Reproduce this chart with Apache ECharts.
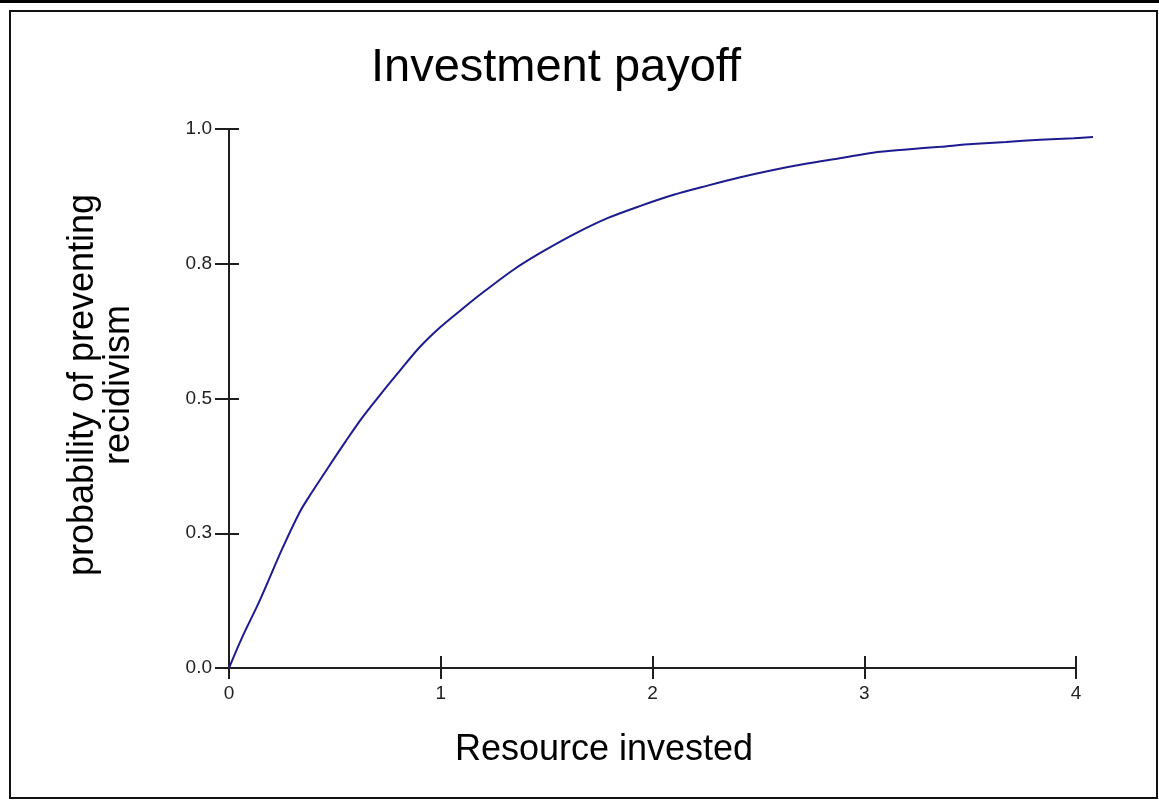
<!DOCTYPE html>
<html>
<head>
<meta charset="utf-8">
<script src="https://cdn.jsdelivr.net/npm/echarts@6/dist/echarts.min.js"></script>
<style>
  html, body { margin: 0; padding: 0; background: #fff; }
  #chartLine { width: 1159px; height: 809px; }
</style>
</head>
<body>
<div id="chartLine"></div>
<script>
// values
const resource = [0, 0.06, 0.146, 0.25, 0.335, 0.39, 0.47, 0.55, 0.63, 0.71, 0.81, 0.90, 1.0, 1.12, 1.2, 1.34, 1.47, 1.63, 1.79, 1.94, 2.1, 2.26, 2.41, 2.57, 2.73, 2.89, 3.04, 3.2, 3.36, 3.51, 3.67, 3.83, 3.99, 4.08]
const probability = [0, 0.055, 0.126, 0.22, 0.29, 0.325, 0.373, 0.42, 0.465, 0.505, 0.553, 0.595, 0.633, 0.672, 0.697, 0.738, 0.77, 0.805, 0.835, 0.857, 0.878, 0.895, 0.91, 0.924, 0.936, 0.946, 0.956, 0.962, 0.967, 0.972, 0.976, 0.98, 0.983, 0.985]
const yTicks = [0, 0.25, 0.5, 0.75, 1.0]
const yTickLabels = ['0.0', '0.3', '0.5', '0.8', '1.0']
const xTickLabels = ['0', '1', '2', '3', '4']

const chartDom = document.getElementById('chartLine')
const myChart = echarts.init(chartDom)

const font = '"Liberation Sans", Arial, sans-serif'
const axisColor = '#1e1e1e'

const yLabel = (v) => {
  const i = yTicks.findIndex(t => Math.abs(t - v) < 1e-9)
  return i >= 0 ? yTickLabels[i] : ''
}

const xAxisBase = {
  type: 'value',
  gridIndex: 0,
  position: 'bottom',
  min: 0,
  max: 4,
  interval: 1,
  splitLine: { show: false },
  axisLine: { lineStyle: { color: axisColor, width: 2 } }
}
const yAxisBase = {
  type: 'value',
  gridIndex: 0,
  position: 'left',
  min: 0,
  max: 1,
  interval: 0.25,
  splitLine: { show: false },
  axisLine: { lineStyle: { color: axisColor, width: 2 } }
}
const hiddenAxis = {
  type: 'value',
  gridIndex: 1,
  axisLine: { show: false },
  axisTick: { show: false },
  axisLabel: { show: false },
  splitLine: { show: false }
}

let option = {
  animation: false,
  backgroundColor: '#fff',
  grid: [
    // axes grid, x runs to 4
    { left: 229, right: 83, top: 129, bottom: 141 },
    // curve grid, same scale but runs on to the last point
    { left: 229, right: 66, top: 129, bottom: 141 }
  ],
  xAxis: [
    {
      ...xAxisBase,
      axisTick: { show: true, length: 11, lineStyle: { color: axisColor, width: 2 } },
      axisLabel: {
        margin: 16,
        color: '#222',
        fontFamily: font,
        fontSize: 19,
        formatter: (v) => xTickLabels[Math.round(v)] ?? ''
      }
    },
    {
      ...xAxisBase,
      axisTick: { show: true, inside: true, length: 12, lineStyle: { color: axisColor, width: 2 } },
      axisLabel: { show: false }
    },
    { ...hiddenAxis, min: 0, max: 4.08 }
  ],
  yAxis: [
    {
      ...yAxisBase,
      axisTick: { show: true, length: 14, lineStyle: { color: axisColor, width: 2 } },
      axisLabel: {
        margin: 17,
        color: '#222',
        fontFamily: font,
        fontSize: 19,
        formatter: yLabel
      }
    },
    {
      ...yAxisBase,
      axisTick: { show: true, inside: true, length: 10, lineStyle: { color: axisColor, width: 2 } },
      axisLabel: { show: false }
    },
    { ...hiddenAxis, min: 0, max: 1 }
  ],
  graphic: [
    // top rule and outer frame
    { type: 'rect', shape: { x: 0, y: 0, width: 1159, height: 3 }, style: { fill: '#000' } },
    { type: 'rect', shape: { x: 10, y: 11, width: 1147, height: 787 }, style: { fill: 'none', stroke: '#111', lineWidth: 2 } },
    {
      type: 'text', x: 556, y: 68,
      style: { text: 'Investment payoff', font: '47px ' + font, fill: '#000', align: 'center', verticalAlign: 'middle' }
    },
    {
      type: 'text', x: 604, y: 750,
      style: { text: 'Resource invested', font: '36px ' + font, fill: '#000', align: 'center', verticalAlign: 'middle' }
    },
    {
      type: 'text', x: 101, y: 385, rotation: Math.PI / 2,
      style: { text: 'probability of preventing\nrecidivism', font: '36px ' + font, lineHeight: 36, fill: '#000', align: 'center', verticalAlign: 'middle' }
    }
  ],
  series: [
    {
      type: 'line',
      xAxisIndex: 2,
      yAxisIndex: 2,
      data: resource.map((x, i) => [x, probability[i]]),
      showSymbol: false,
      smooth: 0.3,
      lineStyle: { color: '#1c1c90', width: 2 }
    }
  ]
}
option && myChart.setOption(option)
</script>
</body>
</html>
